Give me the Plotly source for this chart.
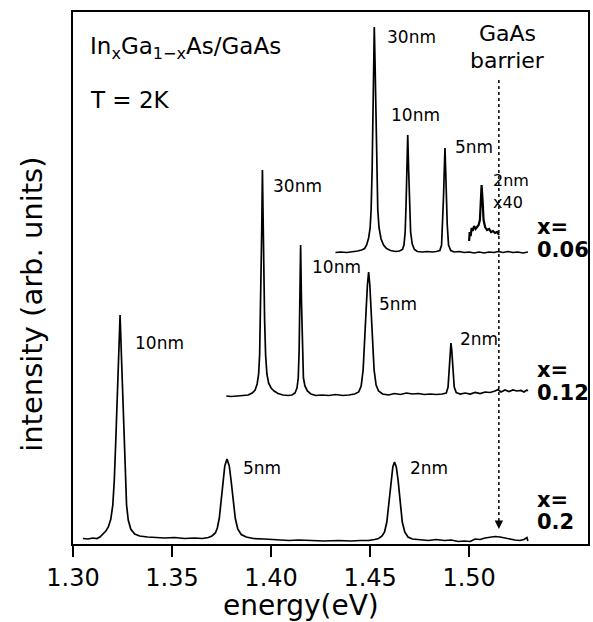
import plotly.graph_objects as go

# ---------------- data ----------------
# x = 0.2 spectrum (bottom)
E_x020 = [1.30503, 1.30754, 1.31005, 1.31206, 1.31357, 1.31508, 1.31658, 1.31784, 1.31910, 1.32010,
          1.32085, 1.32161, 1.32236, 1.32302, 1.32377, 1.32452, 1.32513, 1.32578, 1.32638, 1.32704,
          1.32789, 1.32915, 1.33116, 1.33367, 1.33769, 1.34171, 1.34623, 1.35126, 1.35628, 1.36131,
          1.36533, 1.36834, 1.37015, 1.37186, 1.37286, 1.37387, 1.37477, 1.37563, 1.37663, 1.37774,
          1.37889, 1.37990, 1.38090, 1.38191, 1.38317, 1.38492, 1.38744, 1.39095, 1.39648, 1.40302,
          1.40905, 1.41407, 1.42010, 1.42663, 1.43417, 1.44020, 1.44523, 1.44925, 1.45226, 1.45427,
          1.45603, 1.45729, 1.45844, 1.45955, 1.46055, 1.46146, 1.46231, 1.46322, 1.46412, 1.46513,
          1.46623, 1.46749, 1.46910, 1.47136, 1.47538, 1.47940, 1.48342, 1.48744, 1.49095, 1.49447,
          1.49749, 1.50050, 1.50302, 1.50553, 1.50804, 1.51055, 1.51307, 1.51558, 1.51809, 1.52060,
          1.52312, 1.52563, 1.52764, 1.52915, 1.52965]
I_x020 = [5.5, 5, 6, 5.5, 7, 10, 13, 17, 25, 39,
          64, 104, 144, 184, 229, 184, 144, 104, 64, 39,
          24, 15, 10, 8, 7, 6.5, 6, 6.5, 5.5, 6,
          5.5, 6.5, 8, 11, 16, 26, 44, 62, 78, 85,
          78, 62, 44, 26, 15, 9.5, 7, 5.5, 5, 4.5,
          3.5, 4, 3.5, 3, 3.5, 3, 3.5, 3.5, 4.5, 5.5,
          8, 12, 22, 42, 64, 77, 82, 77, 64, 42,
          22, 12, 7, 5, 4, 3.5, 4.5, 3.5, 4, 2.5,
          3, 2.5, 5, 4.5, 6, 6.5, 7.5, 7, 6, 4.5,
          4, 3.5, 4.5, 6.5, 3]

# x = 0.12 spectrum (middle, offset)
E_x012 = [1.37739, 1.37990, 1.38291, 1.38593, 1.38844, 1.39045, 1.39196, 1.39296, 1.39372, 1.39422,
          1.39462, 1.39497, 1.39528, 1.39563, 1.39598, 1.39633, 1.39673, 1.39724, 1.39789, 1.39874,
          1.40000, 1.40151, 1.40352, 1.40603, 1.40854, 1.41055, 1.41206, 1.41307, 1.41372, 1.41417,
          1.41452, 1.41492, 1.41533, 1.41573, 1.41633, 1.41709, 1.41834, 1.42010, 1.42261, 1.42563,
          1.42915, 1.43266, 1.43618, 1.43920, 1.44221, 1.44422, 1.44548, 1.44648, 1.44724, 1.44799,
          1.44864, 1.44925, 1.44985, 1.45050, 1.45126, 1.45201, 1.45302, 1.45427, 1.45628, 1.45930,
          1.46231, 1.46533, 1.46834, 1.47136, 1.47437, 1.47739, 1.48040, 1.48342, 1.48643, 1.48844,
          1.48935, 1.48995, 1.49045, 1.49080, 1.49121, 1.49176, 1.49246, 1.49347, 1.49548, 1.49799,
          1.50050, 1.50302, 1.50553, 1.50804, 1.51055, 1.51307, 1.51457, 1.51608, 1.51809, 1.52010,
          1.52211, 1.52412, 1.52613, 1.52764, 1.52915, 1.52965]
I_x012 = [148, 147.5, 148, 148.5, 149, 151, 154, 160, 170, 189,
          224, 264, 314, 374, 314, 264, 224, 189, 170, 161,
          156, 153, 150.5, 149, 148.5, 149, 151, 156, 166, 194,
          244, 299, 244, 194, 166, 158, 153, 150, 148.5, 149,
          148.5, 149.5, 148.5, 149, 150, 152, 158, 174, 199, 234,
          259, 272, 259, 234, 199, 174, 159, 153, 150, 149,
          150.5, 149.5, 151, 150, 150.5, 149.5, 150, 149.5, 150, 151,
          157, 174, 194, 201, 194, 174, 157, 151.5, 150, 151,
          150, 151.5, 150.5, 152, 151.5, 153, 154.5, 152, 154, 152.5,
          154, 153, 153.5, 152, 154, 153]

# x = 0.06 spectrum (top, offset)
E_x006 = [1.43251, 1.43518, 1.43819, 1.44121, 1.44372, 1.44573, 1.44724, 1.44824, 1.44925, 1.45000,
          1.45050, 1.45101, 1.45146, 1.45181, 1.45211, 1.45246, 1.45286, 1.45332, 1.45387, 1.45452,
          1.45553, 1.45678, 1.45829, 1.46030, 1.46281, 1.46482, 1.46633, 1.46709, 1.46769, 1.46814,
          1.46854, 1.46899, 1.46945, 1.46990, 1.47045, 1.47126, 1.47236, 1.47387, 1.47638, 1.47889,
          1.48141, 1.48342, 1.48518, 1.48608, 1.48663, 1.48709, 1.48744, 1.48779, 1.48814, 1.48849,
          1.48894, 1.48960, 1.49070, 1.49246, 1.49497, 1.49749, 1.50000, 1.50251, 1.50503, 1.50754,
          1.51005, 1.51256, 1.51457, 1.51709, 1.51960, 1.52211, 1.52462, 1.52714, 1.52965]
I_x006 = [291.5, 292, 291.5, 292, 293, 294, 295.5, 299, 306, 316,
          334, 374, 434, 484, 517, 484, 434, 374, 334, 316,
          305, 299, 295.5, 293.5, 292.5, 293, 294.5, 299, 312, 339,
          374, 409, 374, 339, 312, 300, 294.5, 292.5, 292, 292.5,
          292, 292.5, 293.5, 299, 319, 349, 374, 396, 374, 349,
          319, 299, 293.5, 292, 292.5, 291.5, 292, 291, 292, 291,
          292, 291.5, 292.5, 291.5, 292.5, 291.5, 292, 291, 292]

# x = 0.06, 2nm peak magnified x40 (inset)
E_x006_x40 = [1.50000, 1.50025, 1.50075, 1.50126, 1.50176, 1.50251, 1.50327, 1.50402, 1.50477, 1.50543,
              1.50588, 1.50628, 1.50678, 1.50729, 1.50804, 1.50905, 1.51005, 1.51106, 1.51206, 1.51307,
              1.51407, 1.51508]
I_x006_x40 = [303, 312, 308, 316, 313, 318, 315, 317, 319, 324,
              344, 359, 344, 324, 317, 314, 315, 312, 313, 311,
              312, 309]

GAAS_BARRIER_EV = 1.515
TICK_VALUES = [1.30, 1.35, 1.40, 1.45, 1.50]
TICK_LABELS = ["1.30", "1.35", "1.40", "1.45", "1.50"]
COMPOSITIONS = ["0.06", "0.12", "0.2"]

# ---------------- figure ----------------
FONT = "DejaVu Sans"
line_style = dict(color="black", width=1.7)

fig = go.Figure()
for E, I in [(E_x020, I_x020), (E_x012, I_x012), (E_x006, I_x006)]:
    fig.add_trace(go.Scatter(x=E, y=I, mode="lines", line=line_style,
                             hoverinfo="skip", showlegend=False))
fig.add_trace(go.Scatter(x=E_x006_x40, y=I_x006_x40, mode="lines",
                         line=dict(color="black", width=2.2),
                         hoverinfo="skip", showlegend=False))

# dotted GaAs barrier marker with arrow head
fig.add_shape(type="line", x0=GAAS_BARRIER_EV, x1=GAAS_BARRIER_EV, y0=464, y1=22,
              xref="x", yref="y", line=dict(color="black", width=1.5, dash="dot"))
fig.add_annotation(x=GAAS_BARRIER_EV, y=15, ax=0, ay=-9, xref="x", yref="y",
                   axref="pixel", ayref="pixel", text="", showarrow=True,
                   arrowhead=2, arrowsize=1.2, arrowwidth=1.4, arrowcolor="black")

def label(x, y, text, size=17, bold=False, anchor="left"):
    fig.add_annotation(x=x, y=y, xref="x", yref="y", text=("<b>%s</b>" % text) if bold else text,
                       showarrow=False, xanchor=anchor, yanchor="middle",
                       font=dict(family=FONT, size=size, color="black"))

# peak labels
label(1.4576, 507, "30nm")
label(1.4593, 429, "10nm")
label(1.4920, 397, "5nm")
label(1.5111, 364, "2nm", size=16)
label(1.5111, 342, "x40", size=16)
label(1.3998, 358, "30nm")
label(1.4199, 277, "10nm")
label(1.4533, 240, "5nm")
label(1.4945, 205, "2nm")
label(1.3303, 201, "10nm")
label(1.3848, 76, "5nm")
label(1.4693, 76, "2nm")

# GaAs barrier label
label(1.5196, 511, "GaAs", size=22, anchor="center")
label(1.5196, 484, "barrier", size=22, anchor="center")

# composition labels
for comp, (y1, y2) in zip(COMPOSITIONS, [(317, 294), (174, 151), (44, 22)]):
    label(1.5332, y1, "x=", size=21, bold=True)
    label(1.5332, y2, comp, size=21, bold=True)

# sample description
label(1.3075, 496, "In<sub>x</sub>Ga<sub>1−x</sub>As/GaAs", size=23)
label(1.3075, 444, "T = 2K", size=23)

# axis titles
fig.add_annotation(x=0.443, y=-0.116, xref="paper", yref="paper", text="energy(eV)",
                   showarrow=False, xanchor="center", yanchor="middle",
                   font=dict(family=FONT, size=28, color="black"))
fig.add_annotation(x=-0.080, y=0.451, xref="paper", yref="paper", text="intensity (arb. units)",
                   showarrow=False, textangle=-90, xanchor="center", yanchor="middle",
                   font=dict(family=FONT, size=29, color="black"))

fig.update_layout(
    width=593, height=622,
    margin=dict(l=73, r=3, t=12, b=78),
    paper_bgcolor="white", plot_bgcolor="white",
    font=dict(family=FONT, color="black"),
    xaxis=dict(range=[1.30, 1.56], tickvals=TICK_VALUES, ticktext=TICK_LABELS,
               ticks="outside", ticklen=11, tickwidth=1.5, tickcolor="black",
               showline=True, linewidth=2, linecolor="black", mirror=True,
               showgrid=False, zeroline=False, tickfont=dict(family=FONT, size=24, color="black")),
    yaxis=dict(range=[0, 532], showline=True, linewidth=2, linecolor="black", mirror=True,
               showticklabels=False, ticks="", showgrid=False, zeroline=False),
)

fig.write_html("out.html")
